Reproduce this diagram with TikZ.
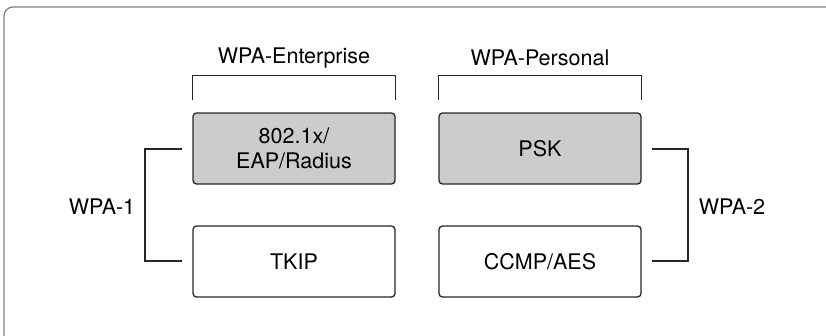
\documentclass[tikz,border=0pt]{standalone}
\usepackage{fontspec}
\setmainfont{TeX Gyre Heros}
\begin{document}
\begin{tikzpicture}[x=1pt,y=-1pt,
  boxA/.style={draw=black!85, line width=1.3pt, rounded corners=3.5pt, minimum width=202pt, minimum height=71pt, inner sep=0pt, align=center, font=\fontsize{21.5}{25}\selectfont},
  shaded/.style={boxA, fill=black!20},
  lbl/.style={font=\fontsize{21.5}{25}\selectfont, inner sep=0pt},
  brk/.style={draw=black!85, line width=1.3pt}]
\useasboundingbox (0,0) rectangle (826,335);
\draw[black!50, line width=1.2pt, rounded corners=9pt] (4,7) rectangle (840,350);
% boxes
\node[shaded] (eap) at (294,148.5) {802.1x/\\EAP/Radius};
\node[boxA] (tkip) at (294,261.5) {TKIP};
\node[shaded] (psk) at (540,148.5) {PSK};
\node[boxA] (ccmp) at (540,261.5) {CCMP/AES};
% top labels and brackets
\node[lbl] (ent) at (294,58) {WPA-Enterprise};
\node[lbl] (per) at (540,58) {WPA-Personal};
\draw[brk] ([yshift=12pt]eap.north west) |- ([yshift=37pt]eap.north) -| ([yshift=12pt]eap.north east);
\draw[brk] ([yshift=12pt]psk.north west) |- ([yshift=37pt]psk.north) -| ([yshift=12pt]psk.north east);
% side brackets
\coordinate (l1) at (182,149);
\coordinate (l2) at (182,261);
\draw[brk] (l1) -- (145,149) -- (145,261) -- (l2);
\node[lbl] (wpa1) at (102,207) {WPA-1};
\coordinate (r1) at (652,149);
\coordinate (r2) at (652,261);
\draw[brk] (r1) -- (688,149) -- (688,261) -- (r2);
\node[lbl] (wpa2) at (732,207) {WPA-2};
\end{tikzpicture}
\end{document}
